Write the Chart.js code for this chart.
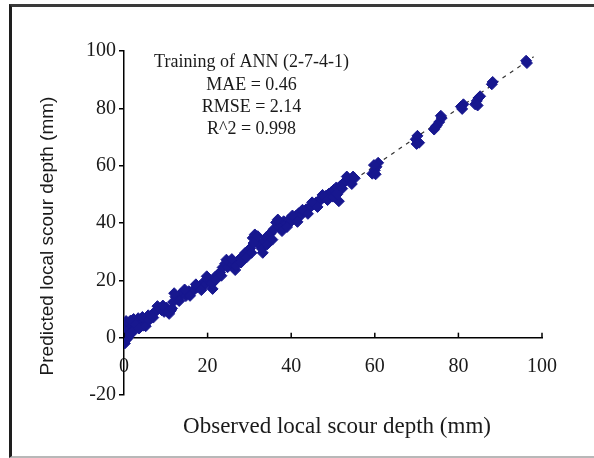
<!DOCTYPE html>
<html>
<head>
<meta charset="utf-8">
<script src="https://cdn.jsdelivr.net/npm/chart.js@4.4.1/dist/chart.umd.min.js"></script>
<style>
  body { margin: 0; background: #fff; }
  #wrap { position: relative; width: 594px; height: 458px; overflow: hidden; }
  #frame {
    position: absolute; left: 9px; top: 4px; width: 600px; height: 449px;
    border-top: 3px solid #3a3a3a; border-left: 3px solid #1e1e1e; border-bottom: 2px solid #b8b8b8;
  }
  #myChart { position: absolute; left: 0; top: 0; }
</style>
</head>
<body>
<div id="wrap">
  <div id="frame"></div>
  <canvas id="myChart" width="594" height="458"></canvas>
</div>
<script>
'use strict';

// observed vs predicted scour depth (mm)
let observed = [0.2, 0.3, 0.4, 0.5, 0.6, 0.8, 1.0, 1.1, 1.3, 1.5, 1.8, 2.0, 2.3, 2.6, 3.0, 3.4, 3.8, 4.2, 4.6, 5.0,
  5.4, 5.8, 6.3, 6.8, 7.3, 7.8, 8.4, 9.0, 9.6, 10.2, 10.8, 11.2, 11.8, 12.3, 12.8, 13.5, 14.2, 14.8, 15.5, 16.2,
  16.8, 17.5, 18.2, 18.8, 19.4, 20.0, 20.6, 21.2, 21.8, 22.4, 23.0, 23.6, 24.2, 24.8, 25.4, 26.0, 26.6, 27.2, 27.8, 28.4,
  29.0, 29.6, 30.2, 30.8, 31.3, 31.8, 32.4, 33.0, 33.5, 34.0, 34.6, 35.2, 35.8, 36.4, 37.0, 37.6, 38.2, 38.8, 39.4, 40.0,
  40.6, 41.2, 41.8, 42.4, 43.0, 43.6, 44.2, 44.8, 45.4, 46.0, 46.6, 47.2, 47.8, 48.4, 49.0, 49.6, 50.2, 50.8, 51.4, 51.8,
  52.4, 53.0, 53.6, 54.2, 54.8, 59.4, 60.0, 60.4, 60.8, 69.8, 70.2, 70.6, 74.2, 74.8, 75.4, 76.0, 80.6, 81.2, 84.0, 84.4,
  84.8, 85.2, 88.2, 96.4,
  0.1, 0.2, 0.5, 0.7, 1.2, 1.6, 2.1, 2.8, 3.6, 4.4, 5.2, 6.0, 7.0, 8.0, 9.3, 10.5, 11.5, 12.0, 13.2, 14.5,
  15.8, 17.2, 18.5, 19.8, 21.0, 22.0, 23.3, 24.5, 25.8, 26.8, 28.0, 29.3, 30.5, 31.0, 32.0, 33.2, 34.3, 35.5, 36.8, 37.8,
  39.0, 40.3, 41.5, 42.7, 44.0, 45.0, 46.3, 47.5, 48.7, 50.0, 51.0, 52.2, 53.3, 54.5, 55.2, 59.8, 60.2, 70.0, 74.5, 75.8,
  80.9, 84.6, 88.0, 96.2];
let predicted = [0.5, -1.0, 2.0, 3.5, 1.0, 4.5, 0.2, 2.5, 5.5, 3.0, 1.5, 4.5, 6.5, 3.8, 5.2, 6.8, 6.2, 5.0, 4.2, 6.5,
  5.3, 7.8, 7.3, 8.2, 8.8, 9.5, 10.2, 9.6, 9.0, 10.5, 8.3, 9.4, 12.5, 14.3, 13.5, 15.2, 15.6, 14.5, 16.2, 15.8,
  17.0, 17.6, 18.0, 19.0, 18.5, 20.3, 19.6, 17.0, 21.2, 22.0, 22.8, 24.5, 25.8, 24.6, 26.2, 25.4, 23.6, 26.8, 27.6, 28.4,
  29.6, 30.2, 31.2, 34.8, 36.0, 33.4, 32.2, 31.0, 33.6, 35.0, 35.8, 36.6, 37.8, 40.2, 38.6, 39.4, 40.6, 39.8, 41.2, 40.6,
  41.8, 42.6, 43.4, 42.8, 44.0, 44.8, 45.2, 45.8, 46.6, 47.2, 47.8, 48.2, 49.0, 49.6, 50.2, 50.8, 51.6, 52.4, 47.6, 53.0,
  53.8, 54.6, 55.4, 55.0, 56.2, 57.2, 58.4, 59.6, 61.0, 69.2, 70.4, 68.0, 72.6, 74.0, 75.2, 76.6, 80.6, 81.4, 81.4, 82.6,
  83.6, 84.2, 89.2, 95.8,
  3.0, -2.0, 5.8, -0.5, 1.2, 6.0, 2.2, 4.6, 3.2, 7.2, 4.0, 6.2, 7.0, 11.0, 11.2, 9.0, 10.2, 15.5, 12.8, 16.8,
  14.6, 18.6, 16.6, 21.4, 18.8, 20.2, 21.6, 27.2, 27.4, 25.0, 26.2, 28.0, 29.6, 33.0, 35.4, 29.6, 32.6, 34.2, 41.2, 37.2,
  38.6, 42.6, 40.4, 44.6, 43.2, 47.2, 45.6, 49.8, 48.0, 49.2, 50.0, 52.0, 56.2, 53.6, 55.6, 60.2, 57.0, 67.6, 73.4, 77.4,
  79.8, 81.0, 88.4, 96.6];

// 1:1 line
let lineX = [0, 98];
let lineY = [0, 98];

let xTicks = [0, 20, 40, 60, 80, 100];
let yTicks = [-20, 0, 20, 40, 60, 80, 100];

let statText = ['Training of ANN (2-7-4-1)', 'MAE = 0.46', 'RMSE = 2.14', 'R^2 = 0.998'];
let xTitle = 'Observed local scour depth (mm)';
let yTitle = 'Predicted local scour depth (mm)';

let serif = 'Liberation Serif';
let pts = [];
for (let i = 0; i < observed.length; i++) {
  pts.push({ x: observed[i], y: predicted[i] });
}
let linePts = [];
for (let i = 0; i < lineX.length; i++) {
  linePts.push({ x: lineX[i], y: lineY[i] });
}

// upward x ticks, stats text, axis titles
let extras = {
  id: 'extras',
  afterDraw(chart) {
    let ctx = chart.ctx;
    let xs = chart.scales.x;
    let ys = chart.scales.y;
    let area = chart.chartArea;
    let y0 = ys.getPixelForValue(0);
    ctx.save();
    ctx.strokeStyle = '#000';
    ctx.lineWidth = 1.5;
    xTicks.forEach(function (t) {
      let px = xs.getPixelForValue(t);
      ctx.beginPath();
      ctx.moveTo(px, y0);
      ctx.lineTo(px, y0 - 5);
      ctx.stroke();
    });
    ctx.fillStyle = '#1a1a1a';
    ctx.font = '18px ' + serif;
    ctx.textAlign = 'center';
    ctx.textBaseline = 'middle';
    let cx = xs.getPixelForValue(30.5);
    let top = ys.getPixelForValue(96);
    statText.forEach(function (s, i) {
      ctx.fillText(s, cx, top + i * 22.3);
    });

    ctx.font = '23px ' + serif;
    ctx.fillText(xTitle, (area.left + area.right) / 2 + 4, 427);

    ctx.translate(48, 236);
    ctx.rotate(-Math.PI / 2);
    ctx.font = '19px Liberation Sans';
    ctx.fillText(yTitle, 0, 0);
    ctx.restore();
  }
};

let ctx = document.getElementById('myChart').getContext('2d');
let myChart = new Chart(ctx, {
  type: 'scatter',
  data: {
    datasets: [{
      label: 'Training',
      data: pts,
      pointStyle: 'rectRot',
      pointRadius: 5.5,
      backgroundColor: '#17178f',
      borderColor: '#17178f',
      borderWidth: 1,
      order: 1
    }, {
      label: '1:1',
      data: linePts,
      showLine: true,
      pointRadius: 0,
      borderColor: '#333',
      borderWidth: 1.2,
      borderDash: [4, 5],
      order: 2
    }]
  },
  plugins: [extras],
  options: {
    responsive: false,
    animation: false,
    layout: { padding: { left: 0, right: 52, top: 51, bottom: 63 } },
    plugins: {
      legend: { display: false },
      tooltip: { enabled: false }
    },
    scales: {
      x: {
        type: 'linear',
        position: { y: 0 },
        min: 0,
        max: 100,
        afterFit: function (s) { s.height = 0; },
        afterBuildTicks: function (s) { s.ticks = xTicks.map(function (v) { return { value: v }; }); },
        grid: { display: true, drawOnChartArea: false, drawTicks: false },
        border: { display: true, color: '#000', width: 1.5 },
        ticks: { color: '#1a1a1a', padding: 17, maxRotation: 0, font: { family: serif, size: 20 } }
      },
      y: {
        type: 'linear',
        min: -20,
        max: 100,
        afterFit: function (s) { s.width = 124; },
        afterBuildTicks: function (s) { s.ticks = yTicks.map(function (v) { return { value: v }; }); },
        grid: { drawOnChartArea: false, drawTicks: true, tickLength: 5, color: '#000', lineWidth: 1.5 },
        border: { display: true, color: '#000', width: 1.5 },
        ticks: { color: '#1a1a1a', padding: 3, font: { family: serif, size: 20 } }
      }
    }
  }
});
</script>
</body>
</html>
